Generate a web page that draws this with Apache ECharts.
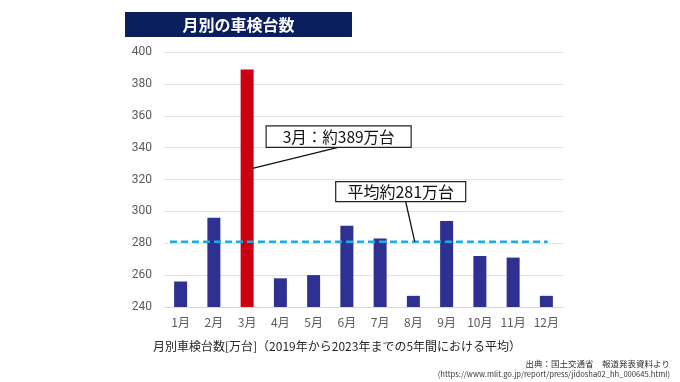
<!DOCTYPE html>
<html>
<head>
<meta charset="utf-8">
<script src="https://cdn.jsdelivr.net/npm/echarts@6/dist/echarts.min.js"></script>
<style>
html,body{margin:0;padding:0;background:#fff;}
#chart{width:680px;height:382px;}
</style>
</head>
<body>
<div id="chart"></div>
<script>
const months = ['1月','2月','3月','4月','5月','6月','7月','8月','9月','10月','11月','12月'];
const inspections = [256, 296, 389, 258, 260, 291, 283, 247, 294, 272, 271, 247];
const highlightMonth = '3月';
const averageValue = 281;
const averageSpan = [-0.32, 11.04];
const yTicks = [240, 400, 20];
const titleText = '月別の車検台数';
const subtitleText = '月別車検台数[万台]（2019年から2023年までの5年間における平均）';
const sourceLines = ['出典：国土交通省　報道発表資料より', '(https://www.mlit.go.jp/report/press/jidosha02_hh_000645.html)'];
const peakLabel = '3月：約389万台';
const avgLabel = '平均約281万台';
const peakLeaderValue = 327;
const avgLeaderPos = 7.04;

const FONT = '"Noto Sans CJK JP", "Noto Sans", sans-serif';
const NAVY = '#2e3191';
const RED = '#cc0010';

const chart = echarts.init(document.getElementById('chart'), null, {renderer: 'canvas'});

const barData = inspections.map((v, i) => ({
  value: v,
  itemStyle: {color: months[i] === highlightMonth ? RED : NAVY}
}));

const option = {
  animation: false,
  backgroundColor: '#ffffff',
  textStyle: {fontFamily: FONT},
  grid: {left: 164, right: 117, top: 52, bottom: 75, containLabel: false},
  xAxis: [
    {
      type: 'category',
      data: months,
      axisLine: {show: true, lineStyle: {color: '#d9d9d9', width: 1}},
      axisTick: {show: false},
      axisLabel: {color: '#595959', fontSize: 12, margin: 9, fontFamily: FONT}
    },
    {
      type: 'value',
      min: -0.5, max: 11.5,
      show: false
    }
  ],
  yAxis: {
    type: 'value',
    min: yTicks[0], max: yTicks[1], interval: yTicks[2],
    axisLine: {show: false},
    axisTick: {show: false},
    splitLine: {lineStyle: {color: '#e3e3e3', width: 1}},
    axisLabel: {color: '#595959', fontSize: 12, margin: 12, fontFamily: 'Roboto, "Noto Sans", sans-serif'}
  },
  series: [
    {
      type: 'bar',
      data: barData,
      barWidth: 13,
      xAxisIndex: 0
    },
    {
      type: 'line',
      xAxisIndex: 1,
      data: [[averageSpan[0], averageValue], [averageSpan[1], averageValue]],
      symbol: 'none',
      lineStyle: {color: '#1aaee6', width: 2.5, type: [7, 4]},
      z: 5
    }
  ]
};
chart.setOption(option);

// Annotations anchored to data positions
const peakIdx = months.indexOf(highlightMonth);
const peakPt = chart.convertToPixel({seriesIndex: 0}, [peakIdx, peakLeaderValue]);
const avgPt = chart.convertToPixel({xAxisIndex: 1, yAxisIndex: 0}, [avgLeaderPos, averageValue]);

const peakBox = {x: peakPt[0] + 19, y: peakPt[1] - 42.5, w: 145, h: 21.5};
const avgBox = {x: avgPt[0] - 79, y: avgPt[1] - 60, w: 130, h: 20};

chart.setOption({
  graphic: [
    {
      type: 'rect', shape: {x: 125, y: 12, width: 227, height: 25},
      style: {fill: '#0b1f5e'}, z: 10
    },
    {
      type: 'text', x: 238.5, y: 24.5,
      style: {text: titleText, fill: '#ffffff', font: 'bold 16px ' + FONT, align: 'center', verticalAlign: 'middle'}, z: 11
    },
    {
      type: 'line',
      shape: {x1: peakPt[0] + 5.5, y1: peakPt[1], x2: peakBox.x + 72, y2: peakBox.y + peakBox.h},
      style: {stroke: '#111', lineWidth: 1.3}, z: 10
    },
    {
      type: 'rect', shape: {x: peakBox.x, y: peakBox.y, width: peakBox.w, height: peakBox.h},
      style: {fill: '#ffffff', stroke: '#222', lineWidth: 1.2}, z: 10
    },
    {
      type: 'text', x: peakBox.x + peakBox.w / 2, y: peakBox.y + peakBox.h / 2 + 0.5,
      style: {text: peakLabel, fill: '#111', font: '15.5px ' + FONT, align: 'center', verticalAlign: 'middle'}, z: 11
    },
    {
      type: 'line',
      shape: {x1: avgPt[0], y1: avgPt[1], x2: avgBox.x + 70, y2: avgBox.y + avgBox.h},
      style: {stroke: '#111', lineWidth: 1.3}, z: 10
    },
    {
      type: 'rect', shape: {x: avgBox.x, y: avgBox.y, width: avgBox.w, height: avgBox.h},
      style: {fill: '#ffffff', stroke: '#222', lineWidth: 1.2}, z: 10
    },
    {
      type: 'text', x: avgBox.x + avgBox.w / 2, y: avgBox.y + avgBox.h / 2 + 0.5,
      style: {text: avgLabel, fill: '#111', font: '16px ' + FONT, align: 'center', verticalAlign: 'middle'}, z: 11
    },
    {
      type: 'text', x: 153, y: 346,
      style: {text: subtitleText, fill: '#262626', font: '12px ' + FONT, align: 'left', verticalAlign: 'middle'}, z: 11
    },
    {
      type: 'text', x: 670, y: 364,
      style: {text: sourceLines[0], fill: '#333', font: '8.5px ' + FONT, align: 'right', verticalAlign: 'middle'}, z: 11
    },
    {
      type: 'text', x: 670, y: 374.5,
      style: {text: sourceLines[1], fill: '#333', font: '7.6px ' + FONT, align: 'right', verticalAlign: 'middle'}, z: 11
    }
  ]
});
</script>
</body>
</html>
